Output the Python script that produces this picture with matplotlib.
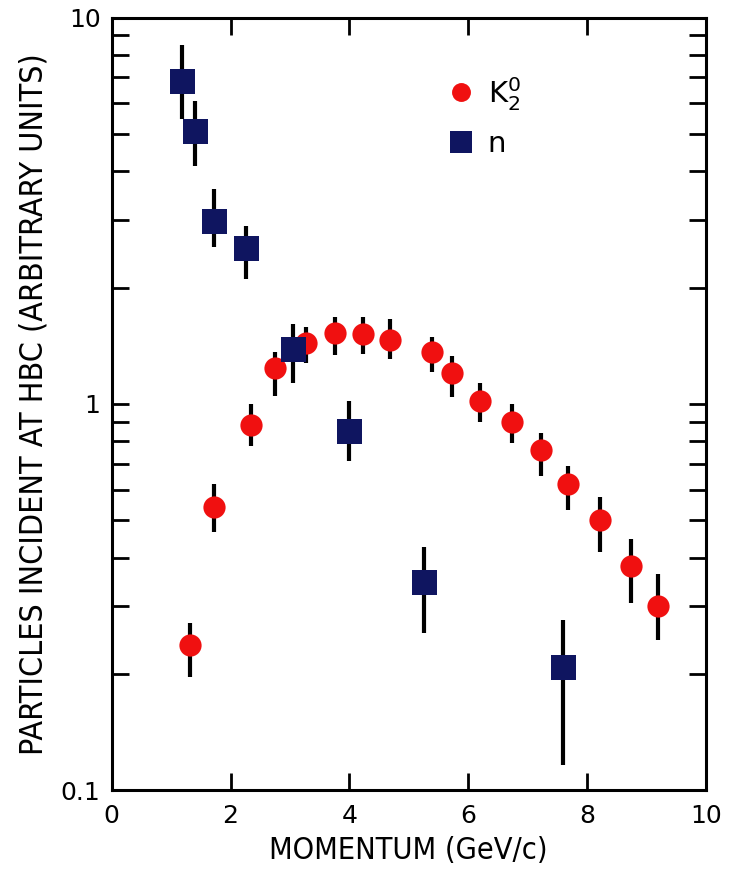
import numpy as np
import matplotlib
matplotlib.use('Agg')
import matplotlib.pyplot as plt
from matplotlib.ticker import FixedLocator, FixedFormatter, LogLocator, NullFormatter

# K2^0 datos (momento, valor, limite inferior, limite superior)
k_p = [1.31, 1.73, 2.34, 2.74, 3.27, 3.75, 4.23, 4.68, 5.39, 5.72, 6.20, 6.73, 7.22, 7.68, 8.22, 8.74, 9.19]
k_y = [0.238, 0.54, 0.88, 1.24, 1.44, 1.53, 1.52, 1.46, 1.36, 1.20, 1.02, 0.90, 0.76, 0.62, 0.50, 0.38, 0.30]
k_lo = [0.196, 0.466, 0.776, 1.05, 1.28, 1.34, 1.35, 1.31, 1.21, 1.04, 0.90, 0.79, 0.65, 0.53, 0.413, 0.306, 0.245]
k_hi = [0.271, 0.622, 1.0, 1.36, 1.58, 1.68, 1.68, 1.66, 1.49, 1.33, 1.135, 1.0, 0.84, 0.69, 0.575, 0.447, 0.363]

# neutrones
n_p = [1.18, 1.41, 1.73, 2.26, 3.05, 4.0, 5.25, 7.59]
n_y = [6.85, 5.1, 2.97, 2.54, 1.39, 0.85, 0.345, 0.209]
n_lo = [5.48, 4.13, 2.55, 2.1, 1.135, 0.71, 0.255, 0.116]
n_hi = [8.5, 6.1, 3.6, 2.88, 1.61, 1.02, 0.426, 0.276]

x_ticks = [0, 2, 4, 6, 8, 10]
y_ticks = [0.1, 1, 10]
y_tick_labels = ['0.1', '1', '10']

rojo = '#f01010'
azul = '#0f1560'

fig = plt.figure(figsize=(7.3, 8.8), dpi=100)
ax = fig.add_axes([0.153, 0.102, 0.814, 0.878])
ax.set_yscale('log')

# barras de error
k_err = [np.array(k_y) - np.array(k_lo), np.array(k_hi) - np.array(k_y)]
n_err = [np.array(n_y) - np.array(n_lo), np.array(n_hi) - np.array(n_y)]
ax.errorbar(k_p, k_y, yerr=k_err, fmt='none', ecolor='black', elinewidth=3, capsize=0, zorder=2)
ax.errorbar(n_p, n_y, yerr=n_err, fmt='none', ecolor='black', elinewidth=3, capsize=0, zorder=2)

# marcadores
ax.plot(k_p, k_y, 'o', color=rojo, markersize=16, markeredgewidth=0, label=r'$\mathrm{K}_2^0$', zorder=3)
ax.plot(n_p, n_y, 's', color=azul, markersize=18, markeredgewidth=0, label='n', zorder=3)

ax.set_xlim(0, 10)
ax.set_ylim(0.1, 10)

ax.xaxis.set_major_locator(FixedLocator(x_ticks))
ax.set_xticklabels([str(t) for t in x_ticks])
ax.yaxis.set_major_locator(FixedLocator(y_ticks))
ax.yaxis.set_major_formatter(FixedFormatter(y_tick_labels))
ax.yaxis.set_minor_locator(LogLocator(base=10, subs=np.arange(2, 10)))
ax.yaxis.set_minor_formatter(NullFormatter())

ax.tick_params(axis='both', which='both', direction='in', top=True, right=True, width=2)
ax.tick_params(axis='both', which='major', length=12, labelsize=18, pad=10)
ax.tick_params(axis='y', which='minor', length=12)
ax.tick_params(axis='y', which='major', pad=8)

for s in ax.spines.values():
    s.set_linewidth(2.2)

ax.set_xlabel('MOMENTUM (GeV/c)', fontsize=22, fontstretch='condensed', labelpad=6)
ax.set_ylabel('PARTICLES INCIDENT AT HBC (ARBITRARY UNITS)', fontsize=23,
              fontstretch='condensed', labelpad=8)

leg = ax.legend(loc='upper left', bbox_to_anchor=(0.515, 0.96), frameon=False,
                fontsize=21, handletextpad=0.3, labelspacing=0.6, handlelength=1.2, markerscale=0.85)

fig.savefig('out.png', dpi=100)
